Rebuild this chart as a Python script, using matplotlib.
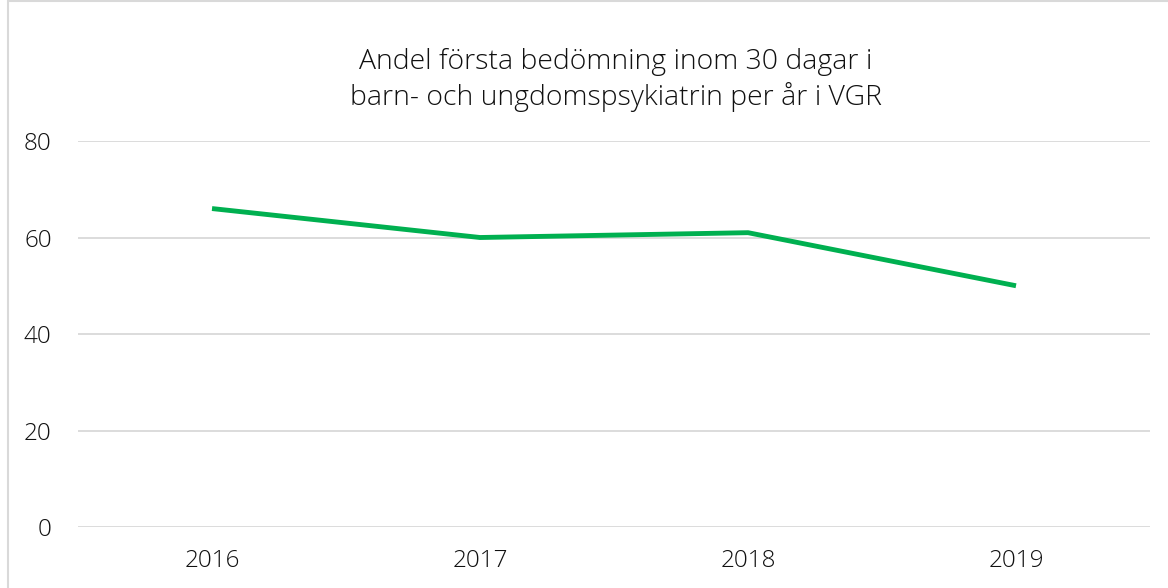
import matplotlib.pyplot as plt
from matplotlib.patches import Rectangle

# Andel första bedömning inom 30 dagar (BUP, VGR)
years = ['2016', '2017', '2018', '2019']
andel = [66, 60, 61, 50]
yticks = [0, 20, 40, 60, 80]

plt.rcParams['font.family'] = ['Open Sans', 'DejaVu Sans']

fig = plt.figure(figsize=(11.68, 5.88), dpi=100)
ax = fig.add_axes([0.0668, 0.1037, 0.9178, 0.6565])

x = range(len(years))
ax.plot(x, andel, color='#00B050', linewidth=3.5, solid_capstyle='butt', zorder=3)

ax.set_xlim(-0.5, len(years) - 0.5)
ax.set_ylim(0, 80)
ax.set_yticks(yticks)
ax.set_xticks(list(x))
ax.set_xticklabels(years)
ax.yaxis.grid(True, color='#d9d9d9', linewidth=1.3)
ax.set_axisbelow(True)
for s in ax.spines.values():
    s.set_visible(False)
ax.tick_params(length=0, labelsize=17.5, colors='#111111')
ax.tick_params(axis='y', pad=19)
ax.tick_params(axis='x', pad=16)
for lbl in ax.get_xticklabels() + ax.get_yticklabels():
    lbl.set_fontweight('light')

fig.text(0.527, 0.864, 'Andel första bedömning inom 30 dagar i\nbarn- och ungdomspsykiatrin per år i VGR',
         ha='center', va='center', fontsize=20.4, fontweight='light', color='#111111', linespacing=1.3)

# chart frame
fig.patches.append(Rectangle((8 / 1168, -0.05), 1.2, 1.049, transform=fig.transFigure,
                             fill=False, edgecolor='#d9d9d9', linewidth=1.5))

fig.savefig('out.png', dpi=100)
